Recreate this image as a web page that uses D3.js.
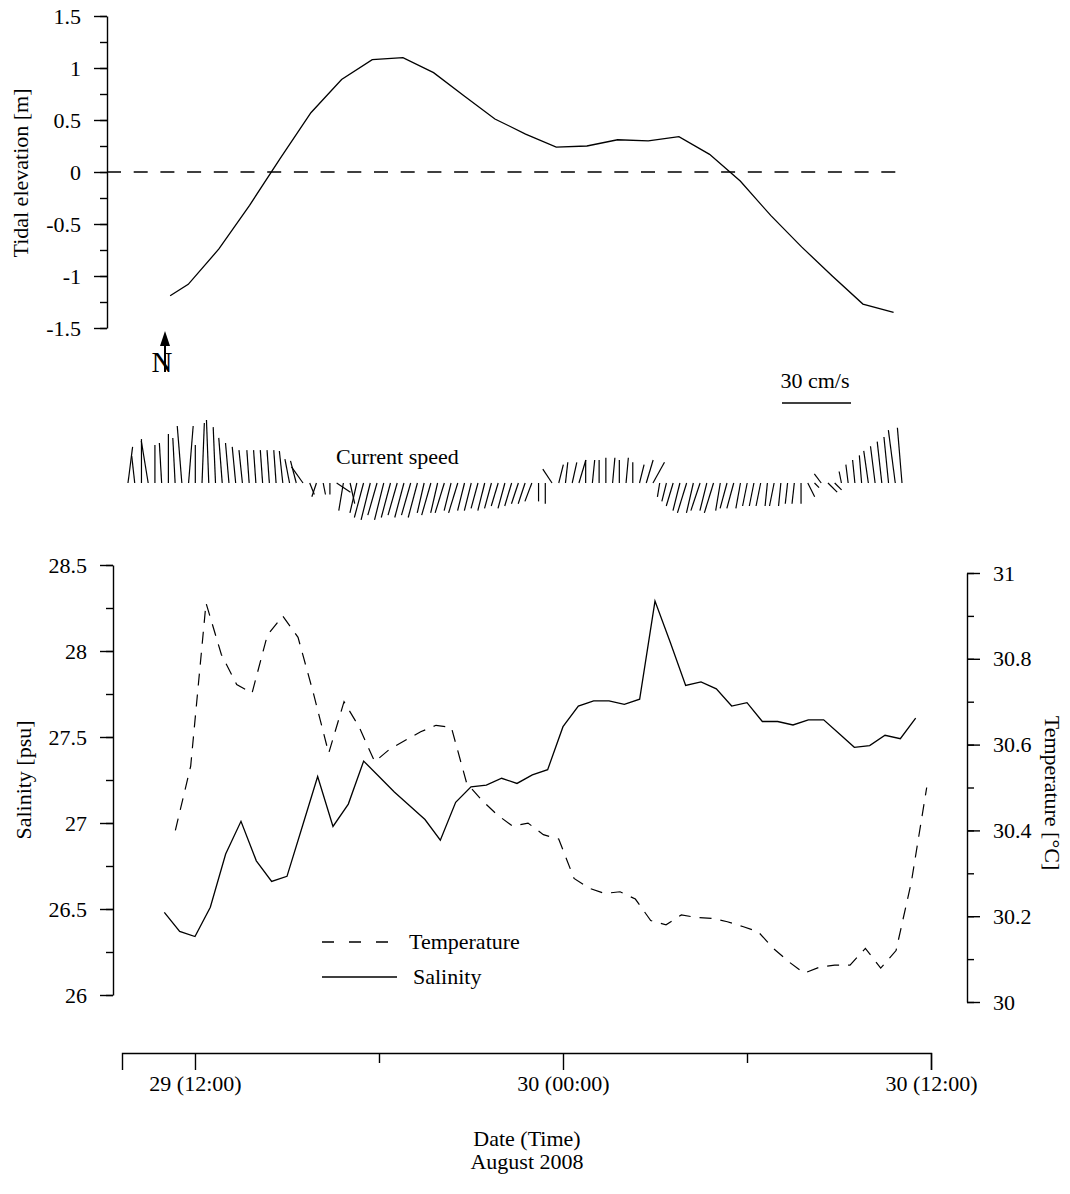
<!DOCTYPE html>
<html>
<head>
<meta charset="utf-8">
<script src="https://cdn.jsdelivr.net/npm/d3@7"></script>
<style>
body { margin: 0; background: #fff; }
text { font-family: "Liberation Serif", "Times New Roman", serif; }
</style>
</head>
<body>
<div id="chart"></div>
<script>
// hours counted from 29 Aug 2008 00:00
var tideHour = [11.19, 11.78, 12.78, 13.78, 14.78, 15.78, 16.78, 17.78, 18.78, 19.78, 20.78, 21.78, 22.78,
  23.78, 24.78, 25.78, 26.78, 27.78, 28.78, 29.78, 30.78, 31.78, 32.78, 33.78, 34.78];
var tideLevel = [-1.19, -1.08, -0.74, -0.32, 0.13, 0.57, 0.89, 1.08, 1.10, 0.955, 0.73, 0.51, 0.365,
  0.24, 0.25, 0.31, 0.30, 0.34, 0.17, -0.087, -0.42, -0.72, -1.00, -1.27, -1.35];

var salHour = [11.0, 11.5, 12.0, 12.5, 13.0, 13.5, 14.0, 14.5, 15.0, 15.5, 16.0, 16.5, 17.0, 17.5, 18.0, 18.5,
  19.0, 19.5, 20.0, 20.5, 21.0, 21.5, 22.0, 22.5, 23.0, 23.5, 24.0, 24.5, 25.0, 25.5, 26.0, 26.5, 27.0, 27.5,
  28.0, 28.5, 29.0, 29.5, 30.0, 30.5, 31.0, 31.5, 32.0, 32.5, 33.0, 33.5, 34.0, 34.5, 35.0, 35.5];
var salinity = [26.48, 26.37, 26.34, 26.51, 26.82, 27.01, 26.78, 26.66, 26.69, 26.98, 27.27, 26.98, 27.11,
  27.36, 27.27, 27.18, 27.10, 27.02, 26.90, 27.12, 27.21, 27.22, 27.26, 27.23, 27.28, 27.31, 27.56, 27.68,
  27.71, 27.71, 27.69, 27.72, 28.29, 28.05, 27.80, 27.82, 27.78, 27.68, 27.70, 27.59, 27.59, 27.57, 27.60,
  27.60, 27.52, 27.44, 27.45, 27.51, 27.49, 27.61];

var tempHour = [11.36, 11.86, 12.36, 12.86, 13.36, 13.86, 14.36, 14.86, 15.36, 15.86, 16.36, 16.86, 17.36,
  17.86, 18.36, 18.86, 19.36, 19.86, 20.36, 20.86, 21.36, 21.86, 22.36, 22.86, 23.36, 23.86, 24.36, 24.86,
  25.36, 25.86, 26.36, 26.86, 27.36, 27.86, 28.36, 28.86, 29.36, 29.86, 30.36, 30.86, 31.36, 31.86, 32.36,
  32.86, 33.36, 33.86, 34.36, 34.86, 35.36, 35.86];
var temperature = [30.40, 30.55, 30.93, 30.81, 30.74, 30.72, 30.855, 30.90, 30.85, 30.72,
  30.58, 30.70, 30.64, 30.56, 30.59, 30.61, 30.63, 30.645, 30.64, 30.51,
  30.47, 30.436, 30.41, 30.417, 30.39, 30.38, 30.288, 30.265, 30.253, 30.257,
  30.24, 30.19, 30.18, 30.203, 30.197, 30.195, 30.187, 30.176, 30.164, 30.125,
  30.094, 30.067, 30.081, 30.086, 30.086, 30.125, 30.079, 30.12, 30.28, 30.50];

// current vectors, cm/s (east, north)
var curU = [2, -1.3, 0, -3, 0, -1, 0, -1, -2, 2, 0, 1, -1, -1, -1.5, -1.5, -1.5, -1.5, -1, -1, -1, -1, -1, -1.5, -2, -2.5,
  -5, 2, -2, 1, 0, 6, -2, 2, -3,
  -4, -4, -4, -4, -4, -4, -4, -4, -4, -3, -4, -3, -4, -3, -4, -3, -3, -3, -3, -3, -3, -3, -3, -3, -3, -3,
  0, 0, -4,
  2, 1, 2, 3, 0, 1, 0, 0, 1, 0, 1, 0, 2, 3, 5,
  -1, -2, -3, -3, -4, -3, -4, -3, -4, -2, -3, -3, -2, -2, -2, -2, -1, -2, -1, -1, -1, 0,
  3, 2, -3, 4, 3,
  -1, -1, -1, -1, -2, -2, -2, -2, -3, -2];
var curV = [15.7, 11.7, 19.1, 18.3, 16.5, 17.4, 21.3, 19.6, 24.8, 24.8, 16.5, 26.1, 27.4, 24.3, 19.6, 17.4, 15.7,
  14.3, 14.3, 14.3, 14.3, 14.3, 14.3, 13.9, 10.4, 9.6,
  7, -5, -6, -5, -5, -4, -12, -9, -13,
  -15, -16, -14, -16, -15, -14, -15, -14, -15, -13, -14, -13, -13, -12, -13, -12, -12, -11, -12, -11, -10, -11, -10, -9, -9, -8,
  -8, -9, 6,
  8, 9, 9, 10, 10, 10, 10, 11, 11, 10, 11, 9, 8, 10, 9,
  -6, -8, -10, -12, -13, -13, -12, -12, -13, -12, -11, -11, -11, -10, -10, -10, -10, -10, -10, -9, -9, -9,
  -6, -2, 4, -4, -3,
  5, 8, 10, 12, 14, 16, 18, 20, 23, 24];

var tideTicks = [-1.5, -1, -0.5, 0, 0.5, 1, 1.5];
var salTicks = [26, 26.5, 27, 27.5, 28, 28.5];
var tempTicks = [30, 30.2, 30.4, 30.6, 30.8, 31];
var timeTicks = [12, 18, 24, 30, 36];
var timeLabels = {12: "29 (12:00)", 24: "30 (00:00)", 36: "30 (12:00)"};

var W = 1070, H = 1194;
var svg = d3.select("#chart").append("svg")
    .attr("width", W)
    .attr("height", H)
    .style("background", "#fff");

var font = "Liberation Serif";
var fs = 22;

var x = d3.scaleLinear().domain([9.62, 36]).range([122, 931]);

function styleAxis(g) {
  g.selectAll("path, line").attr("stroke", "#000").attr("stroke-width", 1.4);
  g.selectAll("text").attr("font-family", font).attr("font-size", fs).attr("fill", "#000");
}

function minorVals(lo, hi, step) {
  var out = [];
  for (var v = lo; v <= hi + 1e-9; v += step) out.push(+v.toFixed(3));
  return out;
}

// ---------- top panel: tide ----------
var yTide = d3.scaleLinear().domain([-1.5, 1.5]).range([328, 16]);

svg.append("g")
    .attr("transform", "translate(107,0)")
    .call(d3.axisLeft(yTide).tickValues(minorVals(-1.5, 1.5, 0.25)).tickSize(7).tickSizeOuter(0).tickFormat(""))
    .call(styleAxis);
svg.append("g")
    .attr("transform", "translate(107,0)")
    .call(d3.axisLeft(yTide).tickValues(tideTicks).tickSize(13).tickSizeOuter(0).tickPadding(13)
      .tickFormat(function(d) { return String(d); }))
    .call(styleAxis)
    .call(function(g) { g.select(".domain").remove(); });

svg.append("line")
    .attr("x1", 107).attr("x2", 905)
    .attr("y1", yTide(0)).attr("y2", yTide(0))
    .attr("stroke", "#000").attr("stroke-width", 1.3)
    .attr("stroke-dasharray", "14,12.7");

var tideLine = d3.line()
    .x(function(d, i) { return x(tideHour[i]); })
    .y(function(d) { return yTide(d); });
svg.append("path")
    .datum(tideLevel)
    .attr("d", tideLine)
    .attr("fill", "none").attr("stroke", "#000").attr("stroke-width", 1.3);

svg.append("text")
    .attr("transform", "translate(28,173) rotate(-90)")
    .attr("text-anchor", "middle")
    .attr("font-family", font).attr("font-size", fs)
    .text("Tidal elevation [m]");

// ---------- middle: current sticks ----------
var stickBase = 483;
var sx = d3.scaleLinear().domain([0, curU.length - 1]).range([128, 902]);
var speed = d3.scaleLinear().domain([0, 30]).range([0, 69]);

svg.append("g").selectAll("line")
  .data(curU)
  .enter()
  .append("line")
    .attr("x1", function(d, i) { return sx(i); })
    .attr("y1", stickBase)
    .attr("x2", function(d, i) { return sx(i) + speed(d); })
    .attr("y2", function(d, i) { return stickBase - speed(curV[i]); })
    .attr("stroke", "#000").attr("stroke-width", 1.2);

svg.append("text")
    .attr("x", 336).attr("y", 464)
    .attr("font-family", font).attr("font-size", fs)
    .text("Current speed");

// scale bar
svg.append("line")
    .attr("x1", 782).attr("x2", 782 + speed(30))
    .attr("y1", 403).attr("y2", 403)
    .attr("stroke", "#000").attr("stroke-width", 1.5);
svg.append("text")
    .attr("x", 815).attr("y", 388)
    .attr("text-anchor", "middle")
    .attr("font-family", font).attr("font-size", fs)
    .text("30 cm/s");

// north arrow
svg.append("text")
    .attr("x", 162).attr("y", 372)
    .attr("text-anchor", "middle")
    .attr("font-family", font).attr("font-size", 29)
    .text("N");
svg.append("line")
    .attr("x1", 165).attr("x2", 165).attr("y1", 372).attr("y2", 343)
    .attr("stroke", "#000").attr("stroke-width", 2);
svg.append("path")
    .attr("d", "M165,331 L160,346 L170,346 Z")
    .attr("fill", "#000");

// ---------- bottom panel: salinity / temperature ----------
var ySal = d3.scaleLinear().domain([26, 28.5]).range([995, 565]);
var yTemp = d3.scaleLinear().domain([30, 31]).range([1002, 573]);

svg.append("g")
    .attr("transform", "translate(113,0)")
    .call(d3.axisLeft(ySal).tickValues(minorVals(26, 28.5, 0.25)).tickSize(7).tickSizeOuter(0).tickFormat(""))
    .call(styleAxis);
svg.append("g")
    .attr("transform", "translate(113,0)")
    .call(d3.axisLeft(ySal).tickValues(salTicks).tickSize(13).tickSizeOuter(0).tickPadding(13)
      .tickFormat(function(d) { return String(d); }))
    .call(styleAxis)
    .call(function(g) { g.select(".domain").remove(); });

svg.append("g")
    .attr("transform", "translate(967,0)")
    .call(d3.axisRight(yTemp).tickValues(minorVals(30, 31, 0.1)).tickSize(7).tickSizeOuter(0).tickFormat(""))
    .call(styleAxis);
svg.append("g")
    .attr("transform", "translate(967,0)")
    .call(d3.axisRight(yTemp).tickValues(tempTicks).tickSize(13).tickSizeOuter(0).tickPadding(13)
      .tickFormat(function(d) { return String(d); }))
    .call(styleAxis)
    .call(function(g) { g.select(".domain").remove(); });

svg.append("text")
    .attr("transform", "translate(31,780) rotate(-90)")
    .attr("text-anchor", "middle")
    .attr("font-family", font).attr("font-size", fs)
    .text("Salinity [psu]");
svg.append("text")
    .attr("transform", "translate(1045,793) rotate(90)")
    .attr("text-anchor", "middle")
    .attr("font-family", font).attr("font-size", fs)
    .text("Temperature [°C]");

var tempLine = d3.line()
    .x(function(d, i) { return x(tempHour[i]); })
    .y(function(d) { return yTemp(d); });
svg.append("path")
    .datum(temperature)
    .attr("d", tempLine)
    .attr("fill", "none").attr("stroke", "#000").attr("stroke-width", 1.2)
    .attr("stroke-dasharray", "12,9");

var salLine = d3.line()
    .x(function(d, i) { return x(salHour[i]); })
    .y(function(d) { return ySal(d); });
svg.append("path")
    .datum(salinity)
    .attr("d", salLine)
    .attr("fill", "none").attr("stroke", "#000").attr("stroke-width", 1.3);

// legend
svg.append("line")
    .attr("x1", 322).attr("x2", 389).attr("y1", 942).attr("y2", 942)
    .attr("stroke", "#000").attr("stroke-width", 1.3).attr("stroke-dasharray", "12,15");
svg.append("text")
    .attr("x", 409).attr("y", 949)
    .attr("font-family", font).attr("font-size", fs)
    .text("Temperature");
svg.append("line")
    .attr("x1", 322).attr("x2", 397).attr("y1", 977).attr("y2", 977)
    .attr("stroke", "#000").attr("stroke-width", 1.3);
svg.append("text")
    .attr("x", 413).attr("y", 984)
    .attr("font-family", font).attr("font-size", fs)
    .text("Salinity");

// ---------- time axis ----------
svg.append("g")
    .attr("transform", "translate(0,1053)")
    .call(d3.axisBottom(x).tickValues(timeTicks).tickSizeOuter(0)
      .tickSize(17).tickPadding(5)
      .tickFormat(function(d) { return timeLabels[d] || ""; }))
    .call(styleAxis)
    .call(function(g) {
      g.selectAll(".tick").filter(function(d) { return !timeLabels[d]; })
        .select("line").attr("y2", 10);
    });

svg.append("text")
    .attr("x", 527).attr("y", 1146)
    .attr("text-anchor", "middle")
    .attr("font-family", font).attr("font-size", fs)
    .text("Date (Time)");
svg.append("text")
    .attr("x", 527).attr("y", 1169)
    .attr("text-anchor", "middle")
    .attr("font-family", font).attr("font-size", fs)
    .text("August 2008");
</script>
</body>
</html>
